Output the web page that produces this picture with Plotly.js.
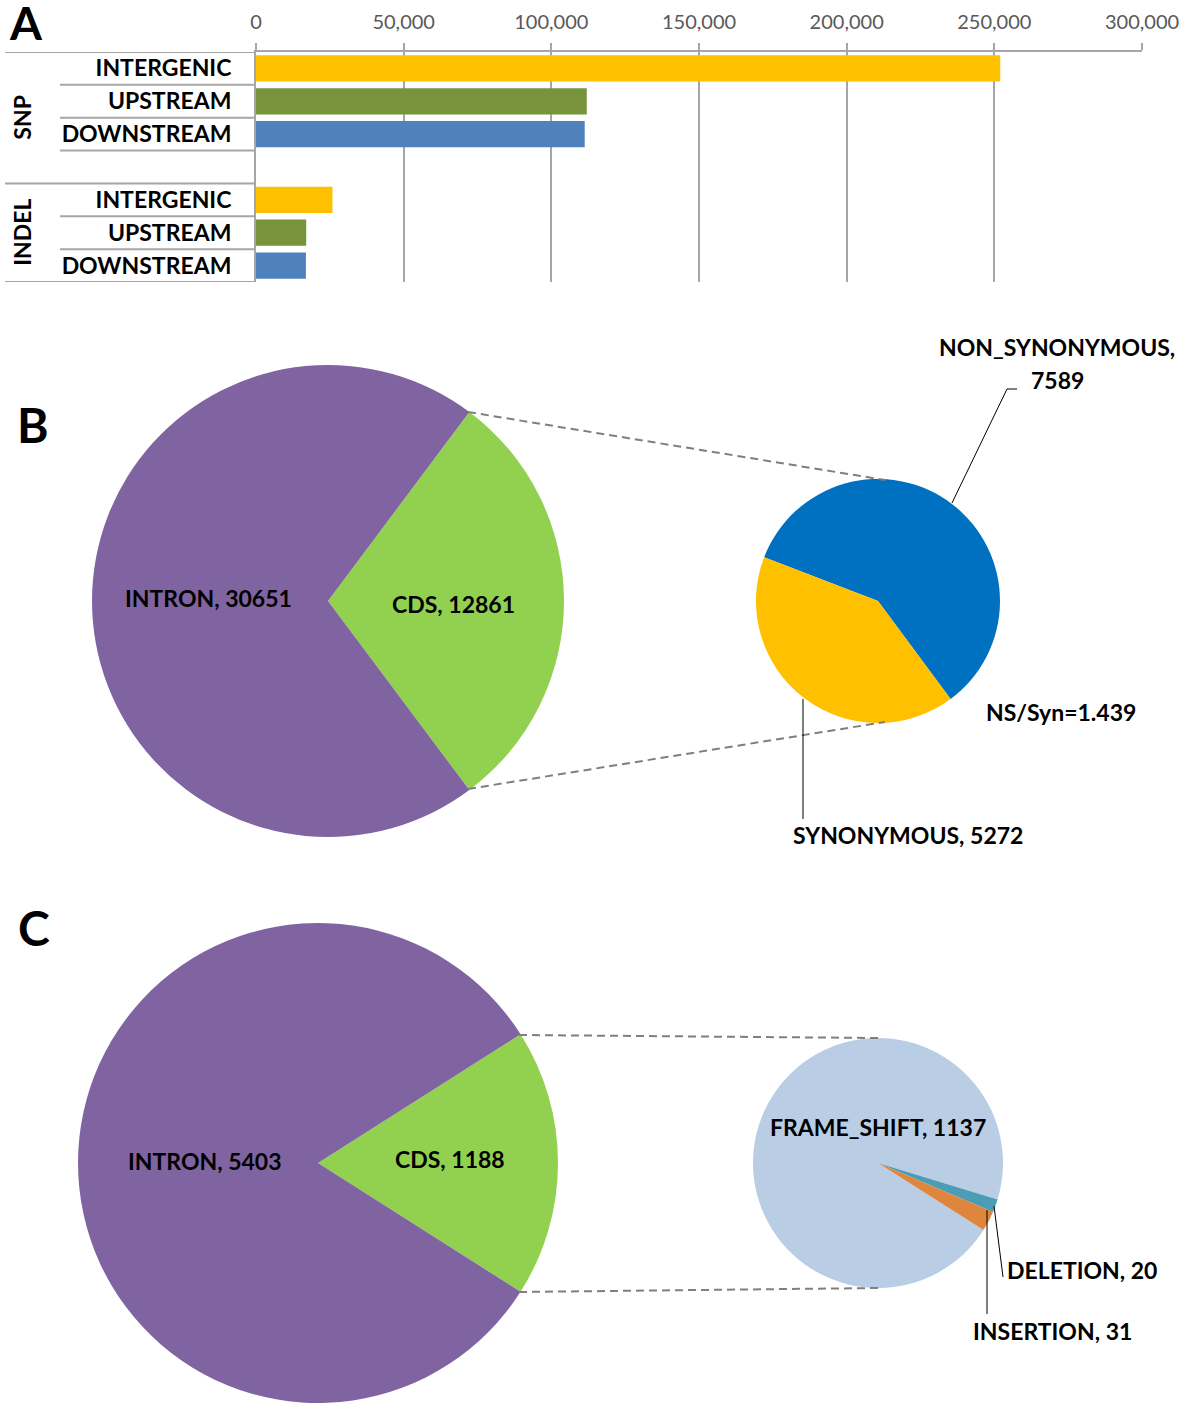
<!DOCTYPE html>
<html>
<head>
<meta charset="utf-8">
<script src="https://cdn.plot.ly/plotly-3.0.1.min.js"></script>
<style>html,body{margin:0;padding:0;background:#fff;}#chart{width:1181px;height:1405px;}</style>
</head>
<body>
<div id="chart"></div>
<script>
// ---------- DATA ----------
const variantGroups = ['SNP', 'INDEL'];
const regionLabels = ['INTERGENIC', 'UPSTREAM', 'DOWNSTREAM'];
const snpRegionCounts = [252000, 112000, 111300];
const indelRegionCounts = [25900, 17000, 16900];
const xTickValues = [0, 50000, 100000, 150000, 200000, 250000, 300000];

const snpGenicLabels = ['CDS', 'INTRON'];
const snpGenicValues = [12861, 30651];
const snpCdsLabels = ['NON_SYNONYMOUS', 'SYNONYMOUS'];
const snpCdsValues = [7589, 5272];

const indelGenicLabels = ['CDS', 'INTRON'];
const indelGenicValues = [1188, 5403];
const indelCdsLabels = ['FRAME_SHIFT', 'DELETION', 'INSERTION'];
const indelCdsValues = [1137, 20, 31];

// ---------- STYLE ----------
const W = 1181, H = 1405;
const FONT = 'Lato, "Open Sans", sans-serif';
const regionColors = ['#FFC000', '#77933C', '#4F81BD'];
const gridGray = '#A6A6A6';
const px = x => x / W;
const py = y => 1 - y / H;

// ---------- PANEL A: bars ----------
const barY = [], barX = [], barC = [], tickVals = [], tickText = [];
[snpRegionCounts, indelRegionCounts].forEach((arr, g) => {
  arr.forEach((v, i) => {
    const pos = g * 4 + i;
    barY.push(pos); barX.push(v); barC.push(regionColors[i]);
    tickVals.push(pos); tickText.push(regionLabels[i]);
  });
});

const traces = [{
  type: 'bar', orientation: 'h', x: barX, y: barY, width: 0.8,
  marker: { color: barC, line: { width: 0 } },
  xaxis: 'x', yaxis: 'y', showlegend: false, hoverinfo: 'x'
}];

// ---------- PIES ----------
function domainFromCircle(cx, cy, r) {
  return { x: [px(cx - r), px(cx + r)], y: [py(cy + r), py(cy - r)] };
}
const sum = a => a.reduce((s, v) => s + v, 0);

// B big
const bCdsFrac = snpGenicValues[0] / sum(snpGenicValues);
traces.push({
  type: 'pie', labels: snpGenicLabels, values: snpGenicValues, sort: false,
  direction: 'clockwise', rotation: 90 - bCdsFrac * 180,
  marker: { colors: ['#92D050', '#8064A2'], line: { width: 0 } },
  textinfo: 'none', hoverinfo: 'label+value', showlegend: false,
  domain: domainFromCircle(328, 601, 236)
});
// B small
const bNsFrac = snpCdsValues[0] / sum(snpCdsValues);
traces.push({
  type: 'pie', labels: snpCdsLabels, values: snpCdsValues, sort: false,
  direction: 'clockwise', rotation: 143.5 - bNsFrac * 360,
  marker: { colors: ['#0070C0', '#FFC000'], line: { width: 0 } },
  textinfo: 'none', hoverinfo: 'label+value', showlegend: false,
  domain: domainFromCircle(878, 601, 122)
});
// C big
const cCdsFrac = indelGenicValues[0] / sum(indelGenicValues);
traces.push({
  type: 'pie', labels: indelGenicLabels, values: indelGenicValues, sort: false,
  direction: 'clockwise', rotation: 90 - cCdsFrac * 180,
  marker: { colors: ['#92D050', '#8064A2'], line: { width: 0 } },
  textinfo: 'none', hoverinfo: 'label+value', showlegend: false,
  domain: domainFromCircle(318, 1163, 240)
});
// C small
const cFsFrac = indelCdsValues[0] / sum(indelCdsValues);
traces.push({
  type: 'pie', labels: indelCdsLabels, values: indelCdsValues, sort: false,
  direction: 'clockwise', rotation: 107 - cFsFrac * 360,
  marker: { colors: ['#B9CDE5', '#4A9DB5', '#DE853E'], line: { width: 0 } },
  textinfo: 'none', hoverinfo: 'label+value', showlegend: false,
  domain: domainFromCircle(878, 1163, 125)
});

// ---------- SHAPES ----------
const shapes = [];
const fullLines = [-0.5, 3.5, 6.5];
const innerLines = [0.5, 1.5, 2.5, 4.5, 5.5];
fullLines.forEach(y => shapes.push({ type: 'line', xref: 'paper', yref: 'y', x0: px(5), x1: px(256), y0: y, y1: y, line: { color: gridGray, width: 2 } }));
innerLines.forEach(y => shapes.push({ type: 'line', xref: 'paper', yref: 'y', x0: px(60), x1: px(256), y0: y, y1: y, line: { color: gridGray, width: 2 } }));

function seg(x0, y0, x1, y1, color, width, dash) {
  shapes.push({ type: 'line', xref: 'paper', yref: 'paper', x0: px(x0), y0: py(y0), x1: px(x1), y1: py(y1), line: { color: color, width: width, dash: dash || 'solid' } });
}
const dashGray = '#7F7F7F';
seg(468, 412, 885, 480, dashGray, 2, '8px,5px');
seg(468, 789, 885, 722, dashGray, 2, '8px,5px');
seg(519, 1035, 878, 1038, dashGray, 2, '8px,5px');
seg(519, 1292, 878, 1288, dashGray, 2, '8px,5px');
// leader lines
seg(952, 503, 1007, 389, '#000', 1);
seg(1007, 389, 1017, 389, '#000', 1);
seg(803, 699, 803, 819, '#000', 1);
seg(994, 1206, 1003, 1277, '#000', 1);
seg(987, 1210, 987, 1314, '#000', 1);

// ---------- ANNOTATIONS ----------
const ann = [];
function lab(text, x, y, size, opts) {
  ann.push(Object.assign({
    text: text, xref: 'paper', yref: 'paper', x: px(x), y: py(y),
    xanchor: 'center', yanchor: 'middle', showarrow: false,
    font: { family: FONT, size: size, color: '#000', weight: 'bold' }
  }, opts || {}));
}
lab('A', 26, 23, 46);
lab('B', 33, 424, 48);
lab('C', 34, 927, 48);

const GF = { family: FONT, size: 23, color: '#000', weight: 'bold' };
ann.push({ text: variantGroups[0], xref: 'paper', yref: 'y', x: px(22), y: 1.5, textangle: -90, showarrow: false, xanchor: 'center', yanchor: 'middle', font: GF });
ann.push({ text: variantGroups[1], xref: 'paper', yref: 'y', x: px(22), y: 5, textangle: -90, showarrow: false, xanchor: 'center', yanchor: 'middle', font: GF });

const PF = 23;
lab(snpGenicLabels[1] + ', ' + snpGenicValues[1], 208, 598, PF);
lab(snpGenicLabels[0] + ', ' + snpGenicValues[0], 453, 604, PF);
lab(snpCdsLabels[0] + ',', 1057, 347, PF);
lab(String(snpCdsValues[0]), 1057, 380, PF);
lab(snpCdsLabels[1] + ', ' + snpCdsValues[1], 908, 835, PF);
lab('NS/Syn=' + (snpCdsValues[0] / snpCdsValues[1]).toFixed(3), 1061, 712, PF);

lab(indelGenicLabels[1] + ', ' + indelGenicValues[1], 205, 1161, PF);
lab(indelGenicLabels[0] + ', ' + indelGenicValues[0], 450, 1159, PF);
lab(indelCdsLabels[0] + ', ' + indelCdsValues[0], 878, 1127, PF);
lab(indelCdsLabels[1] + ', ' + indelCdsValues[1], 1005, 1270, PF, { xanchor: 'left' });
lab(indelCdsLabels[2] + ', ' + indelCdsValues[2], 1052, 1331, PF);

const layout = {
  width: W, height: H,
  margin: { l: 0, r: 0, t: 0, b: 0 },
  paper_bgcolor: '#fff', plot_bgcolor: 'rgba(0,0,0,0)',
  showlegend: false,
  font: { family: FONT },
  xaxis: {
    domain: [px(256), px(1142)], range: [0, 300000], side: 'top', anchor: 'y',
    tickvals: xTickValues, tickformat: ',d',
    showgrid: true, gridcolor: gridGray, gridwidth: 2,
    ticks: 'outside', ticklen: 7, tickwidth: 2, tickcolor: gridGray,
    showline: true, linecolor: gridGray, linewidth: 2,
    zeroline: false, ticklabelstandoff: 6,
    tickfont: { family: FONT, size: 20, color: '#595959' }
  },
  yaxis: {
    domain: [py(282), py(52)], range: [6.5, -0.5], anchor: 'x',
    tickvals: tickVals, ticktext: tickText,
    showgrid: false, zeroline: false, ticks: '',
    showline: true, linecolor: gridGray, linewidth: 2,
    ticklabelstandoff: 18,
    tickfont: { family: FONT, size: 23, color: '#000', weight: 'bold' }
  },
  shapes: shapes,
  annotations: ann
};

Plotly.newPlot('chart', traces, layout, { displayModeBar: false, staticPlot: true });
</script>
</body>
</html>
